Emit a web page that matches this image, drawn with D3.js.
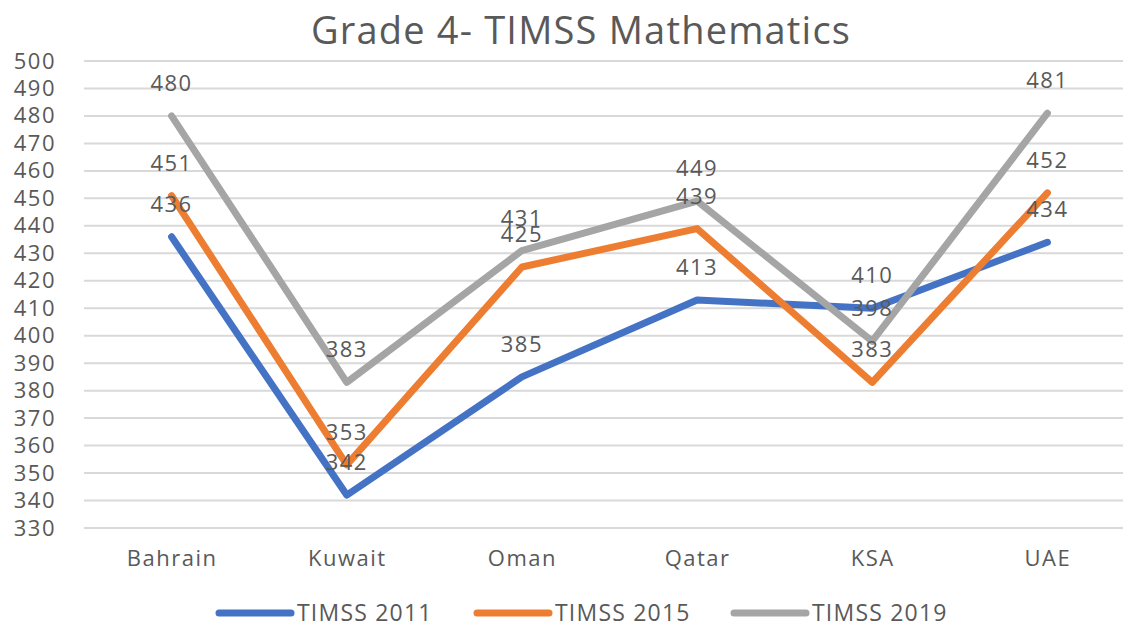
<!DOCTYPE html>
<html>
<head>
<meta charset="utf-8">
<script src="https://d3js.org/d3.v7.min.js"></script>
<style>
  body { margin: 0; background: #ffffff; }
  text { font-family: "Open Sans", sans-serif; fill: #595959; }
</style>
</head>
<body>
<div id="chart"></div>
<script>
//chart data
var countries = ["Bahrain", "Kuwait", "Oman", "Qatar", "KSA", "UAE"];
var seriesNames = ["TIMSS 2011", "TIMSS 2015", "TIMSS 2019"];
var timss2011 = [436, 342, 385, 413, 410, 434];
var timss2015 = [451, 353, 425, 439, 383, 452];
var timss2019 = [480, 383, 431, 449, 398, 481];
var yTicks = d3.range(330, 501, 10);

var colors = ["#4472C4", "#ED7D31", "#A5A5A5"];

//define chart area
var svgWidth = 1123;
var svgHeight = 628;

var svg = d3.select("#chart")
  .append("svg")
  .attr("width", svgWidth)
  .attr("height", svgHeight);

//scales
var xScale = d3.scalePoint()
  .domain(countries)
  .range([84, 1135])
  .padding(0.5);

var yScale = d3.scaleLinear()
  .domain([330, 500])
  .range([528, 61]);

//title
svg.append("text")
  .attr("x", 581)
  .attr("y", 44)
  .attr("text-anchor", "middle")
  .attr("font-size", "38px")
  .attr("letter-spacing", "1.2px")
  .text("Grade 4- TIMSS Mathematics");

//gridlines
svg.append("g")
  .selectAll("line")
  .data(yTicks)
  .enter()
  .append("line")
  .attr("x1", 84)
  .attr("x2", 1135)
  .attr("y1", d => yScale(d))
  .attr("y2", d => yScale(d))
  .attr("stroke", "#d9d9d9")
  .attr("stroke-width", 2);

//y axis labels
var leftAxis = d3.axisLeft(yScale)
  .tickValues(yTicks)
  .tickSize(0)
  .tickPadding(0);

var yAxis = svg.append("g")
  .attr("transform", "translate(56, 0)")
  .call(leftAxis);
yAxis.select(".domain").remove();
yAxis.selectAll("text")
  .attr("font-size", "22px")
  .attr("letter-spacing", "1.5px")
  .attr("font-family", "Open Sans, sans-serif")
  .attr("fill", "#595959");

//x axis labels
var bottomAxis = d3.axisBottom(xScale)
  .tickSize(0)
  .tickPadding(0);

var xAxis = svg.append("g")
  .attr("transform", "translate(0, 550)")
  .call(bottomAxis);
xAxis.select(".domain").remove();
xAxis.selectAll("text")
  .attr("font-size", "22px")
  .attr("letter-spacing", "1.5px")
  .attr("font-family", "Open Sans, sans-serif")
  .attr("fill", "#595959");

//build series
var series = [timss2011, timss2015, timss2019].map(function(vals, i) {
  return {
    name: seriesNames[i],
    color: colors[i],
    values: vals.map(function(v, j) { return { country: countries[j], value: v }; })
  };
});

var line = d3.line()
  .x(d => xScale(d.country))
  .y(d => yScale(d.value));

svg.append("g")
  .selectAll("path")
  .data(series)
  .enter()
  .append("path")
  .attr("d", d => line(d.values))
  .attr("fill", "none")
  .attr("stroke", d => d.color)
  .attr("stroke-width", 7)
  .attr("stroke-linejoin", "round")
  .attr("stroke-linecap", "round");

//data labels above points
series.forEach(function(s) {
  svg.append("g")
    .selectAll("text")
    .data(s.values)
    .enter()
    .append("text")
    .attr("x", d => xScale(d.country))
    .attr("y", d => yScale(d.value) - 25)
    .attr("text-anchor", "middle")
    .attr("font-size", "22px")
    .attr("letter-spacing", "1.5px")
    .attr("fill", "#404040")
    .text(d => d.value);
});

//legend
var legendX = [219, 477, 734];
var legend = svg.append("g")
  .selectAll("g")
  .data(series)
  .enter()
  .append("g")
  .attr("transform", (d, i) => `translate(${legendX[i]}, 613)`);

legend.append("line")
  .attr("x1", 0)
  .attr("x2", 72)
  .attr("y1", 0)
  .attr("y2", 0)
  .attr("stroke", d => d.color)
  .attr("stroke-width", 7)
  .attr("stroke-linecap", "round");

legend.append("text")
  .attr("x", 78)
  .attr("y", 8)
  .attr("font-size", "23px")
  .attr("letter-spacing", "1.2px")
  .text(d => d.name);
</script>
</body>
</html>
